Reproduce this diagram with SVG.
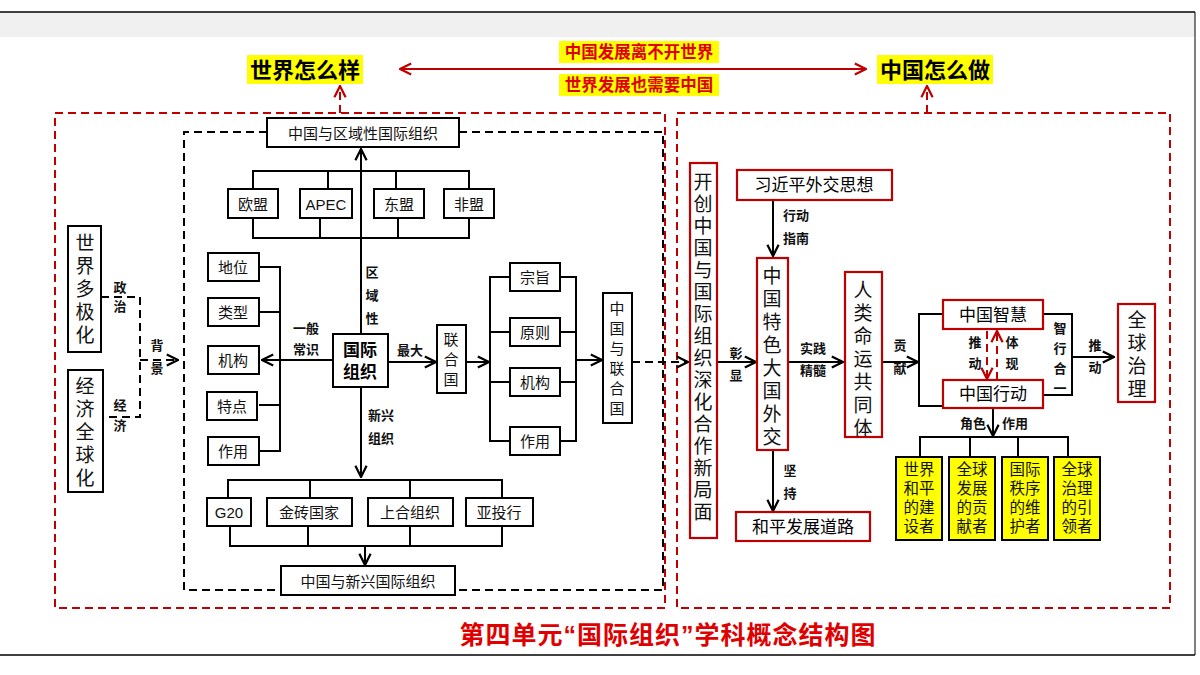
<svg xmlns="http://www.w3.org/2000/svg" width="1200" height="675" viewBox="0 0 1200 675">
<defs>
<marker id="ab" viewBox="0 0 10 10" refX="9" refY="5" markerWidth="7" markerHeight="7" orient="auto-start-reverse"><path d="M1,1 L9,5 L1,9" fill="none" stroke="#000" stroke-width="1.6"/></marker>
<marker id="ar" viewBox="0 0 10 10" refX="9" refY="5" markerWidth="7" markerHeight="7" orient="auto-start-reverse"><path d="M1,1 L9,5 L1,9" fill="none" stroke="#c00000" stroke-width="1.6"/></marker>
<style>
text{font-family:"Liberation Sans","Noto Sans CJK SC",sans-serif;text-anchor:middle;dominant-baseline:central}
.b{fill:#fff;stroke:#000;stroke-width:2}
.r{fill:#fff;stroke:#c00000;stroke-width:2.2}
.y{fill:#ffff00;stroke:#000;stroke-width:2}
.t{font-size:15px;fill:#111}
.ty{font-size:15.5px;fill:#111}
.tv{font-size:19px;fill:#111}
.lb{font-size:13px;font-weight:bold;fill:#111}
.ln{fill:none;stroke:#000;stroke-width:2}
.dk{fill:none;stroke:#000;stroke-width:2;stroke-dasharray:8,5}
.dr{fill:none;stroke:#c00000;stroke-width:2;stroke-dasharray:8,5}
.hl{fill:#ffff00}
.h1{font-size:22px;font-weight:bold;fill:#000}
.h2{font-size:16.5px;font-weight:bold;fill:#e00000}
</style>
</defs>
<rect width="1200" height="675" fill="#fff"/>
<rect x="0" y="13" width="1195" height="24" fill="#f0f0f0"/>
<line x1="0" y1="12" x2="1195" y2="12" stroke="#000" stroke-width="1.5"/>
<line x1="1195" y1="12" x2="1195" y2="655" stroke="#000" stroke-width="1"/>
<line x1="0" y1="655" x2="1195" y2="655" stroke="#000" stroke-width="1.5"/>

<g id="top">
<rect x="247" y="55" width="116" height="29" class="hl"/><text x="305" y="70" class="h1">世界怎么样</text>
<rect x="877" y="55" width="116" height="29" class="hl"/><text x="935" y="70" class="h1">中国怎么做</text>
<rect x="559" y="41" width="160" height="22" class="hl"/><text x="639" y="52" class="h2">中国发展离不开世界</text>
<rect x="559" y="74" width="160" height="22" class="hl"/><text x="639" y="85" class="h2">世界发展也需要中国</text>
</g>

<g id="connectors">
<line x1="400" y1="69" x2="866" y2="69" stroke="#c00000" stroke-width="2" marker-start="url(#ar)" marker-end="url(#ar)"/>
<path d="M340,113 V86" class="dr" stroke-dasharray="5,4" marker-end="url(#ar)"/>
<path d="M927,113 V86" class="dr" stroke-dasharray="5,4" marker-end="url(#ar)"/>
<rect x="55" y="113" width="610" height="495" class="dr"/>
<rect x="677" y="113" width="493" height="495" class="dr"/>
<path d="M267,132 H184 V590 H281 M459,132 H663 V590 H455" class="dk"/>
<path d="M101,297 H140 V417 H103" class="dk" stroke-dasharray="6,4"/>
<path d="M140,360 H178" class="dk" stroke-dasharray="6,4" marker-end="url(#ab)"/>
<path d="M253,190 V171 H469 V190 M328,171 V190 M396,171 V190" class="ln"/>
<path d="M253,217 V238 H469 V217 M320,217 V238 M398,217 V238" class="ln"/>
<path d="M361,333 V149" class="ln" marker-end="url(#ab)"/>
<path d="M259,267 H280 V451 H259 M259,312 H280 M259,405 H280" class="ln"/>
<path d="M333,360 H262" class="ln" marker-end="url(#ab)"/>
<path d="M388,362 H436" class="ln" marker-end="url(#ab)"/>
<path d="M466,362 H489" class="ln" marker-end="url(#ab)"/>
<path d="M510,277 H490 V441 H510 M490,332 H510 M490,382 H510 M560,277 H576 V441 H560 M560,332 H576 M560,382 H576" class="ln"/>
<path d="M576,360 H602" class="ln" marker-end="url(#ab)"/>
<path d="M632,362 H688" class="dk" marker-end="url(#ab)"/>
<path d="M361,387 V477" class="ln" marker-end="url(#ab)"/>
<path d="M228,498 V480 H502 V498 M310,480 V498 M410,480 V498" class="ln"/>
<path d="M230,526 V546 H502 V526 M308,526 V546 M410,526 V546" class="ln"/>
<path d="M365,546 V565" class="ln" marker-end="url(#ab)"/>
<path d="M773,200 V256" class="ln" marker-end="url(#ab)"/>
<path d="M717,362 H756" class="ln" marker-end="url(#ab)"/>
<path d="M788,362 H843" class="ln" marker-end="url(#ab)"/>
<path d="M773,450 V511" class="ln" marker-end="url(#ab)"/>
<path d="M882,362 H918" class="ln" marker-end="url(#ab)"/>
<path d="M943,314 H919 V406 H943" class="ln"/>
<path d="M1043,314 H1072 V395 H1043" class="ln"/>
<path d="M1072,357 H1114" class="ln" marker-end="url(#ab)"/>
<path d="M987,331 V379" class="dr" stroke-dasharray="5,3" marker-end="url(#ar)"/>
<path d="M997,380 V331" class="dr" stroke-dasharray="5,3" marker-end="url(#ar)"/>
<path d="M993,408 V436" class="ln" marker-end="url(#ab)"/>
<path d="M920,457 V437 H1068 V457 M970,437 V457 M1018,437 V457" class="ln"/>
</g>

<g id="labels">
<text x="120" y="287" class="lb">政</text><text x="120" y="306" class="lb">治</text>
<text x="120" y="405" class="lb">经</text><text x="120" y="425" class="lb">济</text>
<text x="157" y="345" class="lb">背</text><text x="157" y="368" class="lb">景</text>
<text x="372" y="272" class="lb">区</text><text x="372" y="295" class="lb">域</text><text x="372" y="318" class="lb">性</text>
<text x="306" y="328" class="lb">一般</text><text x="306" y="349" class="lb">常识</text>
<text x="410" y="350" class="lb">最大</text>
<text x="381" y="415" class="lb">新兴</text><text x="381" y="438" class="lb">组织</text>
<text x="796" y="215" class="lb">行动</text><text x="796" y="238" class="lb">指南</text>
<text x="736" y="353" class="lb">彰</text><text x="736" y="375" class="lb">显</text>
<text x="813" y="348" class="lb">实践</text><text x="813" y="370" class="lb">精髓</text>
<text x="900" y="345" class="lb">贡</text><text x="900" y="368" class="lb">献</text>
<text x="975" y="342" class="lb">推</text><text x="975" y="363" class="lb">动</text>
<text x="1012" y="342" class="lb">体</text><text x="1012" y="363" class="lb">现</text>
<text x="1060" y="328" class="lb">智</text><text x="1060" y="348" class="lb">行</text><text x="1060" y="368" class="lb">合</text><text x="1060" y="388" class="lb">一</text>
<text x="1095" y="345" class="lb">推</text><text x="1095" y="367" class="lb">动</text>
<text x="790" y="470" class="lb">坚</text><text x="790" y="493" class="lb">持</text>
<text x="973" y="423" class="lb">角色</text><text x="1015" y="423" class="lb">作用</text>
</g>

<g id="n-duojihua"><rect x="68" y="226" width="33" height="126" class="b"/><text class="tv" x="85" y="243">世</text><text class="tv" x="85" y="266">界</text><text class="tv" x="85" y="289">多</text><text class="tv" x="85" y="312">极</text><text class="tv" x="85" y="335">化</text></g>
<g id="n-quanqiuhua"><rect x="68" y="370" width="35" height="122" class="b"/><text class="tv" x="85" y="386">经</text><text class="tv" x="85" y="409">济</text><text class="tv" x="85" y="432">全</text><text class="tv" x="85" y="455">球</text><text class="tv" x="85" y="478">化</text></g>

<g id="n-quyu"><rect x="267" y="118" width="192" height="29" class="b"/><text class="t" x="363" y="133">中国与区域性国际组织</text></g>
<g id="n-oumeng"><rect x="228" y="189" width="50" height="29" class="b"/><text class="t" x="253" y="204">欧盟</text></g>
<g id="n-apec"><rect x="300" y="189" width="52" height="29" class="b"/><text class="t" x="326" y="204">APEC</text></g>
<g id="n-dongmeng"><rect x="374" y="189" width="50" height="29" class="b"/><text class="t" x="399" y="204">东盟</text></g>
<g id="n-feimeng"><rect x="444" y="189" width="50" height="29" class="b"/><text class="t" x="469" y="204">非盟</text></g>

<g id="n-diwei"><rect x="208" y="253" width="51" height="28" class="b"/><text class="t" x="233" y="267">地位</text></g>
<g id="n-leixing"><rect x="208" y="298" width="51" height="28" class="b"/><text class="t" x="233" y="312">类型</text></g>
<g id="n-jigou"><rect x="208" y="346" width="51" height="28" class="b"/><text class="t" x="233" y="360">机构</text></g>
<g id="n-tedian"><rect x="207" y="392" width="50" height="28" class="b"/><text class="t" x="232" y="406">特点</text></g>
<g id="n-zuoyong"><rect x="208" y="437" width="51" height="28" class="b"/><text class="t" x="233" y="451">作用</text></g>

<g id="n-guojizuzhi"><rect x="333" y="334" width="55" height="53" class="b"/><text x="360" y="350" style="font-size:17px;font-weight:bold">国际</text><text x="360" y="372" style="font-size:17px;font-weight:bold">组织</text></g>
<g id="n-lianheguo"><rect x="437" y="325" width="29" height="68" class="b"/><text class="t" x="451" y="339">联</text><text class="t" x="451" y="359">合</text><text class="t" x="451" y="379">国</text></g>
<g id="n-zongzhi"><rect x="510" y="263" width="50" height="28" class="b"/><text class="t" x="535" y="277">宗旨</text></g>
<g id="n-yuanze"><rect x="510" y="318" width="50" height="28" class="b"/><text class="t" x="535" y="332">原则</text></g>
<g id="n-jigou2"><rect x="510" y="368" width="50" height="28" class="b"/><text class="t" x="535" y="382">机构</text></g>
<g id="n-zuoyong2"><rect x="510" y="427" width="50" height="28" class="b"/><text class="t" x="535" y="441">作用</text></g>
<g id="n-zglhg"><rect x="603" y="293" width="29" height="130" class="b"/><text class="t" x="617" y="308">中</text><text class="t" x="617" y="328">国</text><text class="t" x="617" y="348">与</text><text class="t" x="617" y="368">联</text><text class="t" x="617" y="388">合</text><text class="t" x="617" y="408">国</text></g>

<g id="n-g20"><rect x="207" y="498" width="44" height="28" class="b"/><text class="t" x="229" y="512">G20</text></g>
<g id="n-jinzhuan"><rect x="267" y="498" width="85" height="28" class="b"/><text class="t" x="309" y="512">金砖国家</text></g>
<g id="n-shanghe"><rect x="368" y="498" width="85" height="28" class="b"/><text class="t" x="410" y="512">上合组织</text></g>
<g id="n-yatouhang"><rect x="466" y="498" width="67" height="28" class="b"/><text class="t" x="499" y="512">亚投行</text></g>
<g id="n-xinxing"><rect x="281" y="566" width="174" height="29" class="b"/><text class="t" x="368" y="581">中国与新兴国际组织</text></g>

<g id="n-kaichuang"><rect x="690" y="163" width="27" height="375" class="r"/>
<text class="tv" x="703" y="182">开</text><text class="tv" x="703" y="204">创</text><text class="tv" x="703" y="226">中</text><text class="tv" x="703" y="248">国</text><text class="tv" x="703" y="270">与</text><text class="tv" x="703" y="292">国</text><text class="tv" x="703" y="314">际</text><text class="tv" x="703" y="336">组</text><text class="tv" x="703" y="358">织</text><text class="tv" x="703" y="380">深</text><text class="tv" x="703" y="402">化</text><text class="tv" x="703" y="424">合</text><text class="tv" x="703" y="446">作</text><text class="tv" x="703" y="468">新</text><text class="tv" x="703" y="490">局</text><text class="tv" x="703" y="512">面</text></g>
<g id="n-xjp"><rect x="737" y="170" width="155" height="30" class="r"/><text x="814" y="185" style="font-size:17px">习近平外交思想</text></g>
<g id="n-dgwj"><rect x="757" y="258" width="31" height="192" class="r"/>
<text class="tv" x="772" y="276">中</text><text class="tv" x="772" y="299">国</text><text class="tv" x="772" y="322">特</text><text class="tv" x="772" y="345">色</text><text class="tv" x="772" y="368">大</text><text class="tv" x="772" y="391">国</text><text class="tv" x="772" y="414">外</text><text class="tv" x="772" y="437">交</text></g>
<g id="n-mingyun"><rect x="845" y="272" width="37" height="165" class="r"/>
<text class="tv" x="863" y="290">人</text><text class="tv" x="863" y="313">类</text><text class="tv" x="863" y="336">命</text><text class="tv" x="863" y="359">运</text><text class="tv" x="863" y="382">共</text><text class="tv" x="863" y="405">同</text><text class="tv" x="863" y="428">体</text></g>
<g id="n-zhihui"><rect x="943" y="300" width="100" height="29" class="r"/><text x="993" y="315" style="font-size:17px">中国智慧</text></g>
<g id="n-xingdong"><rect x="943" y="380" width="100" height="28" class="r"/><text x="993" y="394" style="font-size:17px">中国行动</text></g>
<g id="n-quanqiu"><rect x="1118" y="304" width="37" height="98" class="r"/><text class="tv" x="1137" y="320">全</text><text class="tv" x="1137" y="343">球</text><text class="tv" x="1137" y="366">治</text><text class="tv" x="1137" y="389">理</text></g>
<g id="n-heping"><rect x="736" y="512" width="134" height="29" class="r"/><text x="803" y="527" style="font-size:17px">和平发展道路</text></g>

<g id="n-r1"><rect x="896" y="457" width="46" height="83" class="y"/><text class="ty" x="919" y="469">世界</text><text class="ty" x="919" y="488">和平</text><text class="ty" x="919" y="507">的建</text><text class="ty" x="919" y="526">设者</text></g>
<g id="n-r2"><rect x="949" y="457" width="46" height="83" class="y"/><text class="ty" x="972" y="469">全球</text><text class="ty" x="972" y="488">发展</text><text class="ty" x="972" y="507">的贡</text><text class="ty" x="972" y="526">献者</text></g>
<g id="n-r3"><rect x="1002" y="457" width="46" height="83" class="y"/><text class="ty" x="1025" y="469">国际</text><text class="ty" x="1025" y="488">秩序</text><text class="ty" x="1025" y="507">的维</text><text class="ty" x="1025" y="526">护者</text></g>
<g id="n-r4"><rect x="1054" y="457" width="46" height="83" class="y"/><text class="ty" x="1077" y="469">全球</text><text class="ty" x="1077" y="488">治理</text><text class="ty" x="1077" y="507">的引</text><text class="ty" x="1077" y="526">领者</text></g>

<text x="668" y="635" style="font-size:25px;font-weight:bold;fill:#e00000;letter-spacing:1px">第四单元“国际组织”学科概念结构图</text>
</svg>
